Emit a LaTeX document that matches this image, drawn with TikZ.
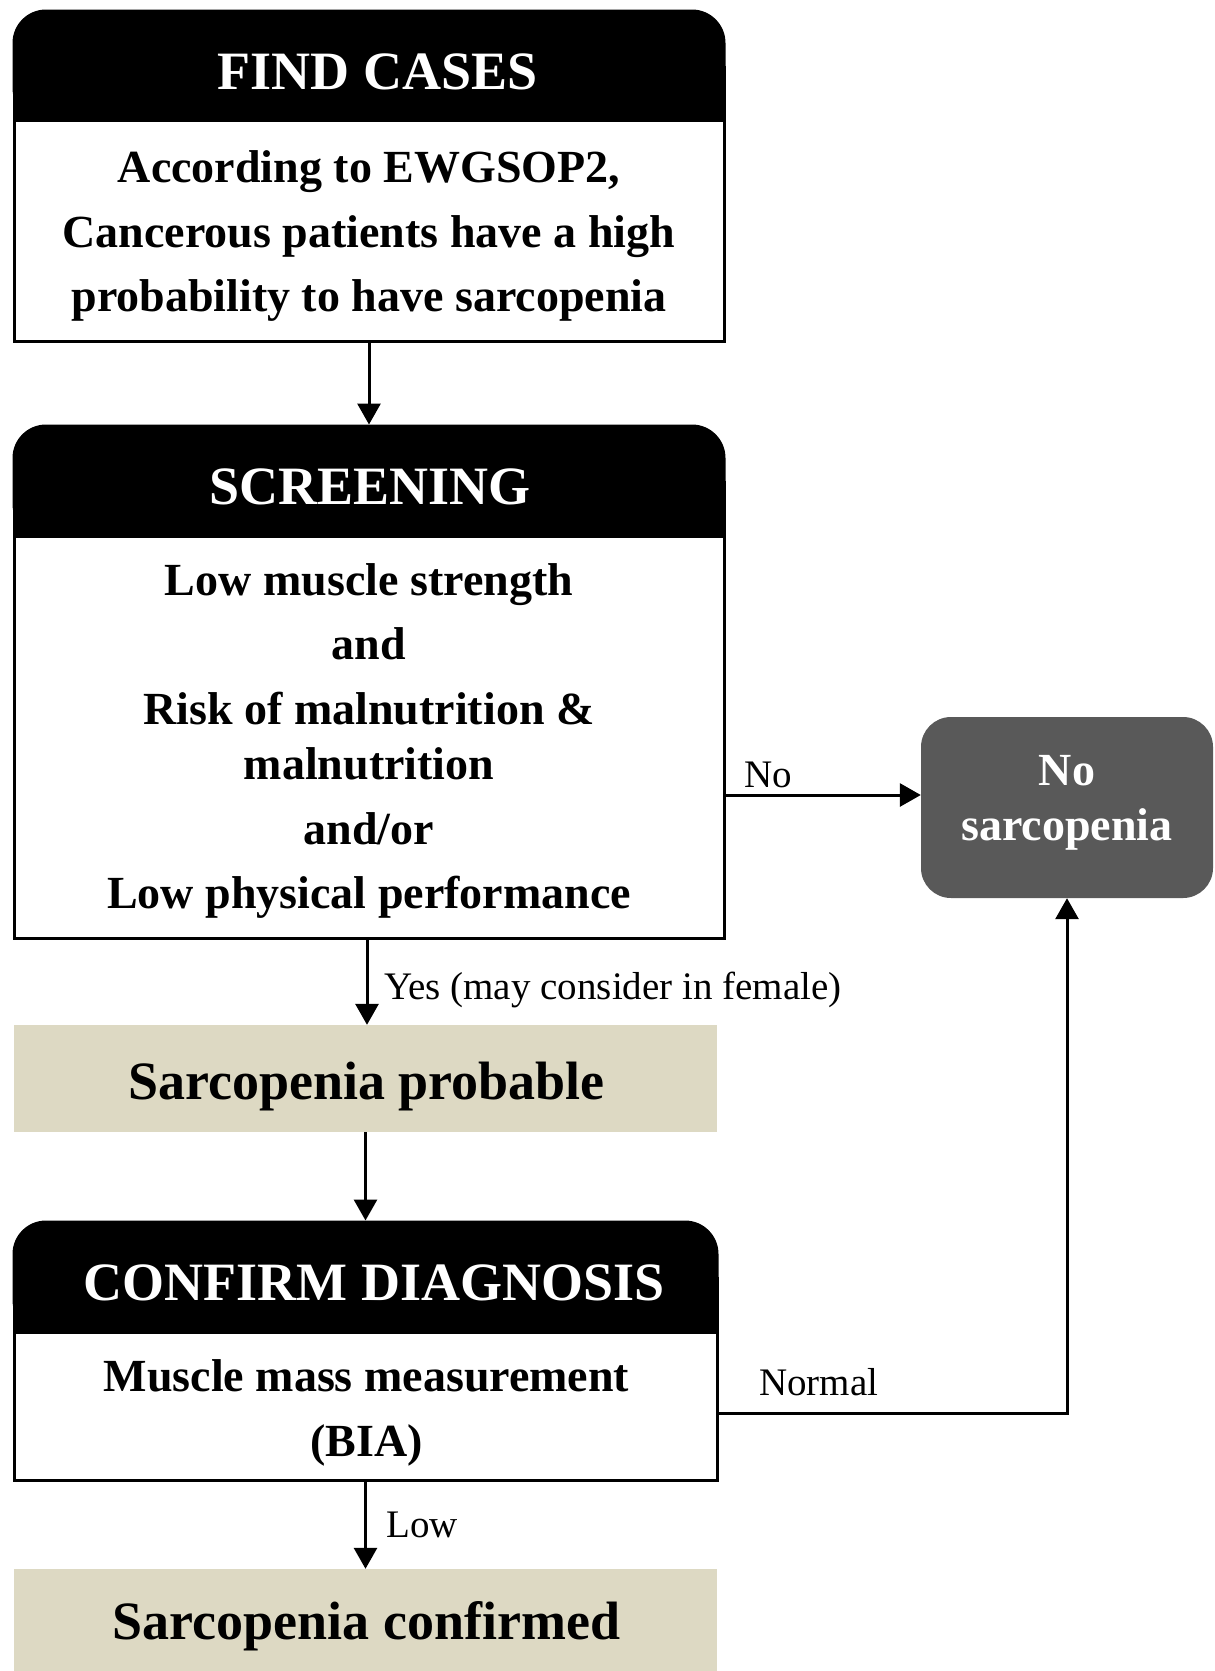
\documentclass[tikz,border=0pt]{standalone}
\usepackage{fontspec}
\setmainfont{Liberation Serif}
\usetikzlibrary{arrows.meta}
\definecolor{beige}{HTML}{DDD9C3}
\definecolor{darkgrey}{HTML}{595959}
\begin{document}
\begin{tikzpicture}[x=1pt,y=-1pt,
  arr/.style={line width=3pt,-{Triangle[length=21pt,width=23pt]}},
  conn/.style={line width=3pt},
  hdrbox/.style={draw=black,fill=black,line width=3pt,rounded corners=32pt,inner sep=0pt},
  bodybox/.style={draw=black,fill=white,line width=3pt,inner sep=0pt},
  resbox/.style={fill=beige,inner sep=0pt},
  nobox/.style={fill=darkgrey,rounded corners=30pt,inner sep=0pt},
  hdrtxt/.style={text=white,font=\bfseries\fontsize{54}{64}\selectfont,anchor=base,inner sep=0pt},
  restxt/.style={text=black,font=\bfseries\fontsize{54}{64}\selectfont,anchor=base,inner sep=0pt},
  bodytxt/.style={font=\bfseries\fontsize{46}{64.5}\selectfont,align=center,inner sep=0pt},
  notxt/.style={text=white,font=\bfseries\fontsize{46}{55}\selectfont,align=center,inner sep=0pt},
  lbl/.style={font=\fontsize{39}{46}\selectfont,anchor=base west,inner sep=0pt}]
\useasboundingbox (0,0) rectangle (1215,1671);
\fill[white] (0,0) rectangle (1215,1671);

% FIND CASES
\fill (12.5,66) rectangle (725.5,121.5);
\node[hdrbox,minimum width=710pt,minimum height=109pt] (fch) at (369,65.5) {};
\node[bodybox,minimum width=710pt,minimum height=221pt] (fcb) at (369,230.5) {};
\node[hdrtxt] (fcht) at (377.5,89.5) {FIND CASES};
\node[bodytxt] (fcbt) at (369,236) {According to EWGSOP2,\\Cancerous patients have a high\\probability to have sarcopenia};

% SCREENING
\fill (12.5,481) rectangle (725.5,537.5);
\node[hdrbox,minimum width=710pt,minimum height=110pt] (sch) at (369,481) {};
\node[bodybox,minimum width=710pt,minimum height=402pt] (scb) at (369,737) {};
\node[hdrtxt] (scht) at (370,504) {SCREENING};
\node[bodytxt] (scbt) at (369,741) {Low muscle strength\\and\\Risk of malnutrition \&\\[-9pt]malnutrition\\and/or\\Low physical performance};

% NO SARCOPENIA
\node[nobox,minimum width=292pt,minimum height=181pt] (no) at (1067,807.5) {};
\node[notxt] (not) at (1067,802.5) {No\\sarcopenia};

% SARCOPENIA PROBABLE
\node[resbox,minimum width=703pt,minimum height=107pt] (prob) at (365.5,1078.5) {};
\node[restxt] (probt) at (366.5,1099) {Sarcopenia probable};

% CONFIRM DIAGNOSIS
\fill (12.5,1277) rectangle (718.5,1333.5);
\node[hdrbox,minimum width=703pt,minimum height=110pt] (cdh) at (365.5,1277) {};
\node[bodybox,minimum width=703pt,minimum height=148pt] (cdb) at (365.5,1406) {};
\node[hdrtxt] (cdht) at (374,1300) {CONFIRM DIAGNOSIS};
\node[bodytxt] (cdbt) at (366.5,1413) {Muscle mass measurement\\(BIA)};

% SARCOPENIA CONFIRMED
\node[resbox,minimum width=703pt,minimum height=102pt] (conf) at (365.5,1620) {};
\node[restxt] (conft) at (366.5,1639) {Sarcopenia confirmed};

% connectors
\draw[arr] (fcb.south) -- (sch.north);
\draw[arr] (scb.south -| prob.north) ++(1.5,0) coordinate (ys) -- (ys |- prob.north);
\draw[arr] ([yshift=-58pt]scb.east) -- ([yshift=-58pt]scb.east -| no.west);
\draw[arr] (prob.south) -- (cdh.north);
\draw[arr] ([yshift=-7pt]cdb.east) -| (no.south);
\draw[arr] (cdb.south) -- (conf.north);

% labels
\node[lbl] (lno) at (744,787) {No};
\node[lbl] (lyes) at (384,999) {Yes (may consider in female)};
\node[lbl] (lnormal) at (759,1395) {Normal};
\node[lbl] (llow) at (386,1537) {Low};
\end{tikzpicture}
\end{document}
